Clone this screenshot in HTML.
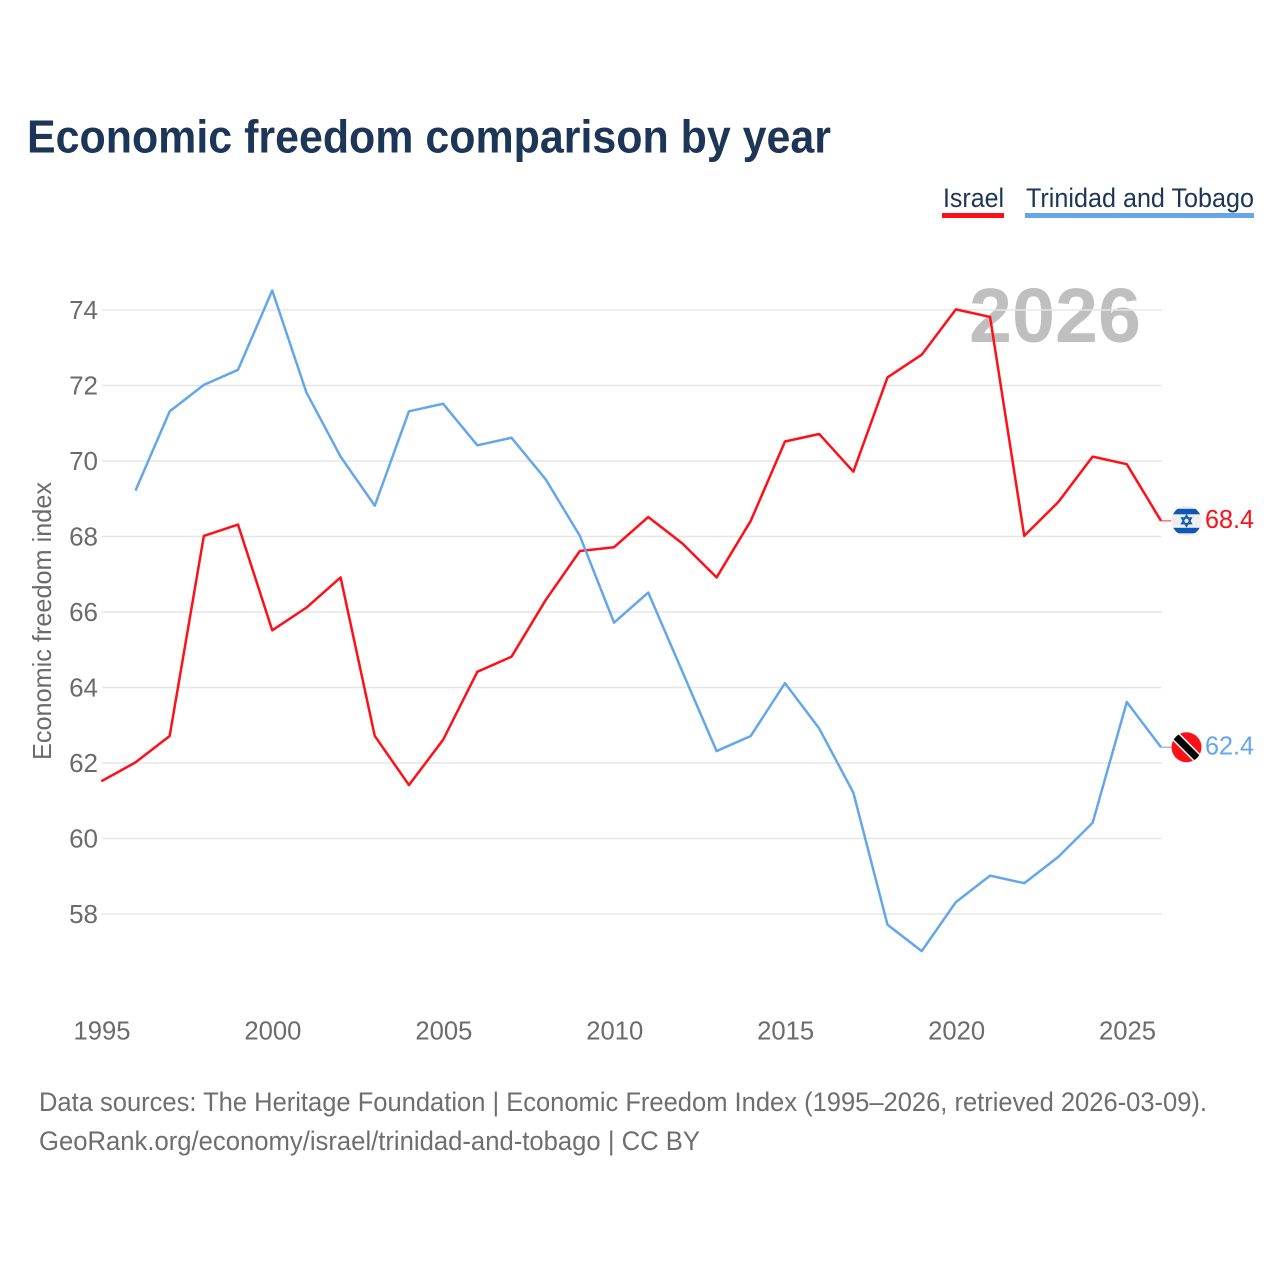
<!DOCTYPE html>
<html lang="en">
<head>
<meta charset="utf-8">
<title>Economic freedom comparison by year</title>
<style>
html,body{margin:0;padding:0;background:#fff;width:1280px;height:1280px;overflow:hidden}
svg{display:block}
text{font-family:"Liberation Sans","DejaVu Sans",sans-serif}
</style>
</head>
<body>
<svg id="chart" xmlns="http://www.w3.org/2000/svg" width="1280" height="1280" viewBox="0 0 1280 1280">
  <rect x="0" y="0" width="1280" height="1280" fill="#ffffff"/>
  <text x="27" y="152.5" font-size="46" font-weight="700" fill="#1d3557" textLength="804" lengthAdjust="spacingAndGlyphs">Economic freedom comparison by year</text>

  <g>
    <text x="943" y="207" font-size="27" fill="#1d3557" textLength="61" lengthAdjust="spacingAndGlyphs">Israel</text>
    <rect x="942" y="213" width="62" height="5" fill="#ff0f17"/>
  </g>
  <g>
    <text x="1026" y="207" font-size="27" fill="#1d3557" textLength="228" lengthAdjust="spacingAndGlyphs">Trinidad and Tobago</text>
    <rect x="1025" y="213" width="229" height="5" fill="#65a6eb"/>
  </g>

  <text x="969" y="342" font-size="77" font-weight="700" fill="#bfbfbf" textLength="172" lengthAdjust="spacingAndGlyphs">2026</text>

  <g id="grid"></g>
  <g id="yticks"></g>
  <g id="xticks"></g>

  <text transform="translate(51,760) rotate(-90)" x="0" y="0" font-size="26" fill="#6b6b6b" textLength="278" lengthAdjust="spacingAndGlyphs">Economic freedom index</text>

  <g id="series" transform="translate(-0.7,-0.6)"></g>

  <g id="flag-israel">
    <clipPath id="il-clip"><circle cx="0" cy="0" r="15"/></clipPath>
    <circle cx="0" cy="0" r="15" fill="#eeeeee"/>
    <g clip-path="url(#il-clip)">
      <rect x="-15" y="-12" width="30" height="5.5" fill="#0f57b5"/>
      <rect x="-15" y="7" width="30" height="5.5" fill="#0f57b5"/>
    </g>
    <path d="M0,-5.5 L4.8,2.8 L-4.8,2.8 Z M0,5.5 L4.8,-2.8 L-4.8,-2.8 Z" fill="none" stroke="#0f57b5" stroke-width="1.5"/>
  </g>
  <g id="flag-tt">
    <clipPath id="tt-clip"><circle cx="0" cy="0" r="15"/></clipPath>
    <circle cx="0" cy="0" r="15" fill="#ff0f17"/>
    <g clip-path="url(#tt-clip)">
      <line x1="-15" y1="-15" x2="15" y2="15" stroke="#ffffff" stroke-width="10"/>
      <line x1="-15" y1="-15" x2="15" y2="15" stroke="#000000" stroke-width="7"/>
    </g>
  </g>
  <g id="endlabels"></g>

  <text x="39" y="1111" font-size="27" fill="#6e6e6e" textLength="1168" lengthAdjust="spacingAndGlyphs">Data sources: The Heritage Foundation | Economic Freedom Index (1995–2026, retrieved 2026-03-09).</text>
  <text x="39" y="1150" font-size="27" fill="#6e6e6e" textLength="661" lengthAdjust="spacingAndGlyphs">GeoRank.org/economy/israel/trinidad-and-tobago | CC BY</text>
</svg>

<script>
const years = [1995,1996,1997,1998,1999,2000,2001,2002,2003,2004,2005,2006,2007,2008,2009,2010,2011,2012,2013,2014,2015,2016,2017,2018,2019,2020,2021,2022,2023,2024,2025,2026];
const israelValues = [61.5,62.0,62.7,68.0,68.3,65.5,66.1,66.9,62.7,61.4,62.6,64.4,64.8,66.3,67.6,67.7,68.5,67.8,66.9,68.4,70.5,70.7,69.7,72.2,72.8,74.0,73.8,68.0,68.9,70.1,69.9,68.4];
const trinidadValues = [null,69.2,71.3,72.0,72.4,74.5,71.8,70.1,68.8,71.3,71.5,70.4,70.6,69.5,68.0,65.7,66.5,64.4,62.3,62.7,64.1,62.9,61.2,57.7,57.0,58.3,59.0,58.8,59.5,60.4,63.6,62.4];
const yTickValues = [58,60,62,64,66,68,70,72,74];
const xTickValues = [1995,2000,2005,2010,2015,2020,2025];

const NS = 'http://www.w3.org/2000/svg';
function xScale(year){ return 102 + (year - 1995) * (1127.5 - 102) / 30; }
function yScale(v){ return 310 + (74 - v) * (914 - 310) / 16; }
function make(tag, attrs, parent){
  const el = document.createElementNS(NS, tag);
  for (const k in attrs) el.setAttribute(k, attrs[k]);
  parent.appendChild(el);
  return el;
}

const grid = document.getElementById('grid');
const yticks = document.getElementById('yticks');
yTickValues.forEach(function(v){
  const line = make('line', {x1:102, x2:xScale(2026), y1:yScale(v), y2:yScale(v), stroke:'#e6e6e6', 'stroke-width':1.5}, grid);
  
  
  const t = make('text', {x:98, y:yScale(v) + 9, 'text-anchor':'end', 'font-size':26, fill:'#6b6b6b'}, yticks);
  
  
  t.textContent = v;
});

const xticks = document.getElementById('xticks');
xTickValues.forEach(function(y){
  const t = make('text', {x:xScale(y), y:1039.5, 'text-anchor':'middle', 'font-size':26, fill:'#6b6b6b', textLength:57, lengthAdjust:'spacingAndGlyphs'}, xticks);
  
  
  t.textContent = y;
});

function linePoints(values){
  const pts = [];
  values.forEach(function(v, i){
    if (v !== null) pts.push(xScale(years[i]).toFixed(2) + ',' + yScale(v).toFixed(2));
  });
  return pts.join(' ');
}

const seriesGroup = document.getElementById('series');
const endLabels = document.getElementById('endlabels');
const lastYear = years[years.length - 1];

const israelLine = make('polyline', {points:linePoints(israelValues), fill:'none', stroke:'#ff0f17', 'stroke-width':2.5, 'stroke-linejoin':'round'}, seriesGroup);



const trinidadLine = make('polyline', {points:linePoints(trinidadValues), fill:'none', stroke:'#65a6eb', 'stroke-width':2.5, 'stroke-linejoin':'round'}, seriesGroup);



const israelLast = israelValues[israelValues.length - 1];
const trinidadLast = trinidadValues[trinidadValues.length - 1];

const israelConnector = make('line', {x1:xScale(lastYear), x2:1172, y1:yScale(israelLast), y2:yScale(israelLast), stroke:'#ff0f17', 'stroke-width':1.5, opacity:0.6}, seriesGroup);



const trinidadConnector = make('line', {x1:xScale(lastYear), x2:1172, y1:yScale(trinidadLast), y2:yScale(trinidadLast), stroke:'#65a6eb', 'stroke-width':1.5, opacity:0.7}, seriesGroup);



document.getElementById('flag-israel').setAttribute('transform', 'translate(1186.5,' + (yScale(israelLast) - 0.6).toFixed(2) + ')');
document.getElementById('flag-tt').setAttribute('transform', 'translate(1186.5,' + (yScale(trinidadLast) - 0.6).toFixed(2) + ')');

const israelEnd = make('text', {x:1205, y:yScale(israelLast) + 6.5, 'font-size':26, fill:'#ff0f17', textLength:49, lengthAdjust:'spacingAndGlyphs'}, endLabels);


israelEnd.textContent = israelLast.toFixed(1);

const trinidadEnd = make('text', {x:1205, y:yScale(trinidadLast) + 6.5, 'font-size':26, fill:'#65a6eb', textLength:49, lengthAdjust:'spacingAndGlyphs'}, endLabels);


trinidadEnd.textContent = trinidadLast.toFixed(1);
</script>
</body>
</html>
